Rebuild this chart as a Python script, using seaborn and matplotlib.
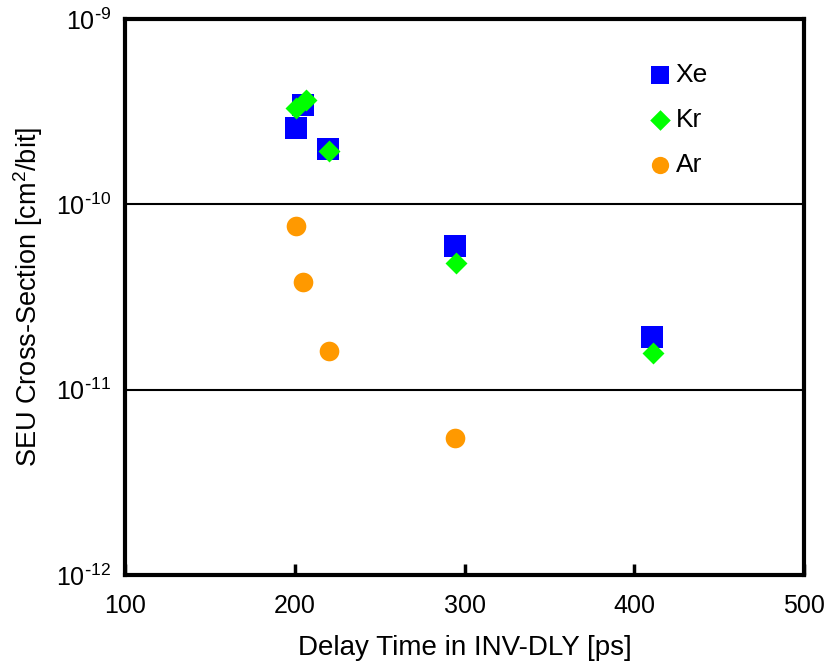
import matplotlib
matplotlib.use("Agg")
import matplotlib.pyplot as plt
import matplotlib.ticker as mticker
import numpy as np
import pandas as pd
import seaborn as sns

# Delay time [ps] and SEU cross-section [cm^2/bit] per ion species
xe_delay = [200.7, 204.9, 219.6, 294.4, 410.5]
xe_sigma = [2.58e-10, 3.44e-10, 1.98e-10, 5.96e-11, 1.93e-11]

kr_delay = [200.7, 206.6, 220.2, 295.0, 411.0]
kr_sigma = [3.31e-10, 3.66e-10, 1.94e-10, 4.84e-11, 1.58e-11]

ar_delay = [200.6, 205.0, 220.0, 294.4]
ar_sigma = [7.64e-11, 3.79e-11, 1.62e-11, 5.45e-12]

ions = ["Xe", "Kr", "Ar"]
ion_colors = {"Xe": "#0000FF", "Kr": "#00FF00", "Ar": "#FF9900"}
ion_markers = {"Xe": "s", "Kr": "D", "Ar": "o"}
ion_sizes = {"Xe": 250, "Kr": 125, "Ar": 200}
legend_sizes = {"Xe": 170, "Kr": 110, "Ar": 155}

x_ticks = [100, 200, 300, 400, 500]
y_ticks = [1e-12, 1e-11, 1e-10, 1e-9]
y_tick_labels = [r"$10^{\text{-}12}$", r"$10^{\text{-}11}$",
                 r"$10^{\text{-}10}$", r"$10^{\text{-}9}$"]

df = pd.concat([
    pd.DataFrame({"delay": xe_delay, "sigma": xe_sigma, "ion": "Xe"}),
    pd.DataFrame({"delay": kr_delay, "sigma": kr_sigma, "ion": "Kr"}),
    pd.DataFrame({"delay": ar_delay, "sigma": ar_sigma, "ion": "Ar"}),
], ignore_index=True)

sns.set_theme(style="white")
plt.rcParams["font.family"] = ["Liberation Sans", "DejaVu Sans"]
plt.rcParams["mathtext.default"] = "regular"
for key in ["text.color", "axes.labelcolor", "xtick.color", "ytick.color"]:
    plt.rcParams[key] = "black"

fig = plt.figure(figsize=(8.30, 6.67), dpi=100)
ax = fig.add_axes([0.1506, 0.138, 0.8181, 0.8335])

for ion in ions:
    sub = df[df["ion"] == ion]
    sns.scatterplot(data=sub, x="delay", y="sigma", ax=ax,
                    color=ion_colors[ion], marker=ion_markers[ion],
                    s=ion_sizes[ion], linewidth=0, label=ion, zorder=3)

ax.set_yscale("log")
ax.set_xlim(100, 500)
ax.set_ylim(1e-12, 1e-9)

# horizontal decade lines
for yv in [1e-11, 1e-10]:
    ax.axhline(yv, color="black", linewidth=1.5, zorder=1)

ax.set_xticks(x_ticks)
ax.set_xticklabels([str(v) for v in x_ticks])
ax.set_yticks(y_ticks)
ax.set_yticklabels(y_tick_labels)
ax.yaxis.set_minor_locator(mticker.NullLocator())
ax.tick_params(axis="x", bottom=True, direction="in", length=8, width=2.5,
               color="black", labelsize=18, pad=14)
ax.tick_params(axis="y", left=False, length=0, labelsize=18, pad=10)

for side in ["left", "right", "top", "bottom"]:
    ax.spines[side].set_visible(True)
    ax.spines[side].set_color("black")
    ax.spines[side].set_linewidth(3)

ax.set_xlabel("Delay Time in INV-DLY [ps]", fontsize=20, labelpad=12)
ax.set_ylabel(r"SEU Cross-Section [cm$^{2}$/bit]", fontsize=19.5, labelpad=8)

leg = ax.legend(loc="upper left", bbox_to_anchor=(0.749, 0.94), frameon=False,
                fontsize=19, handletextpad=0.0, labelspacing=0.79,
                handlelength=1.2, borderaxespad=0)
for handle, ion in zip(leg.legend_handles, ions):
    handle.set_sizes([legend_sizes[ion]])

fig.savefig("out.png", dpi=100, facecolor="white")
